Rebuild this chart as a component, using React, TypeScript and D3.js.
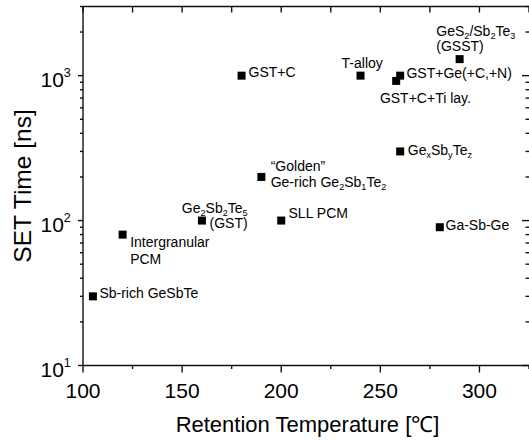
import React from "react";
import * as d3 from "d3";

// ---- data ----
const materials = [
  "Sb-rich GeSbTe",
  "Intergranular PCM",
  "GST",
  "Golden Ge-rich",
  "SLL PCM",
  "GST+C",
  "T-alloy",
  "GST+Ge(+C,+N)",
  "GST+C+Ti lay.",
  "GSST",
  "GexSbyTez",
  "Ga-Sb-Ge",
];
const retentionTemps = [105, 120, 160, 190, 200, 180, 240, 260, 258, 290, 260, 280];
const setTimes = [30, 80, 100, 200, 100, 1000, 1000, 1000, 920, 1300, 300, 90];
const labelLines = [
  ["Sb-rich GeSbTe"],
  ["Intergranular", "PCM"],
  ["Ge_{2}Sb_{2}Te_{5}", "(GST)"],
  ["\u201CGolden\u201D", "Ge-rich Ge_{2}Sb_{1}Te_{2}"],
  ["SLL PCM"],
  ["GST+C"],
  ["T-alloy"],
  ["GST+Ge(+C,+N)"],
  ["GST+C+Ti lay."],
  ["GeS_{2}/Sb_{2}Te_{3}", "(GSST)"],
  ["Ge_{x}Sb_{y}Te_{z}"],
  ["Ga-Sb-Ge"],
];
const xTicks = [100, 150, 200, 250, 300];
const xMinorTicks = [125, 175, 225, 275, 325];
const yMajorTicks = [10, 100, 1000];
const yExponents = ["1", "2", "3"];
const xTitle = "Retention Temperature [\u2103]";
const yTitle = "SET Time [ns]";

// ---- layout (label offsets relative to markers) ----
const labelLayout: { dx: number; dy: number[]; anchor: string }[] = [
  { dx: 6.5, dy: [-3.5], anchor: "start" },
  { dx: 7.5, dy: [7.3, 24], anchor: "start" },
  { dx: 45.7, dy: [-13, 2.6], anchor: "end" },
  { dx: 9.3, dy: [-10.7, 5], anchor: "start" },
  { dx: 7.3, dy: [-7.4], anchor: "start" },
  { dx: 7, dy: [-3.4], anchor: "start" },
  { dx: 1.7, dy: [-12.4], anchor: "middle" },
  { dx: 6.3, dy: [-3], anchor: "start" },
  { dx: -16.3, dy: [17.3], anchor: "start" },
  { dx: -23.3, dy: [-28.3, -13], anchor: "start" },
  { dx: 7.6, dy: [-1.6], anchor: "start" },
  { dx: 5.7, dy: [-2.4], anchor: "start" },
];

const W = 529;
const H = 441;
const L = 83;
const R = 529;
const T = 6.5;
const B = 365.5;
const FONT = "'Liberation Sans', Arial, Helvetica, sans-serif";

function RichText({ s, fs }: { s: string; fs: number }) {
  const parts = s.split(/(_\{[^}]*\})/).filter((p) => p !== "");
  const shift = 3;
  let offset = 0;
  return (
    <>
      {parts.map((p, i) => {
        if (p.startsWith("_{")) {
          const d = shift - offset;
          offset = shift;
          return (
            <tspan key={i} fontSize={fs * 0.65} dy={d}>
              {p.slice(2, -1)}
            </tspan>
          );
        }
        const d = -offset;
        offset = 0;
        return (
          <tspan key={i} dy={d}>
            {p}
          </tspan>
        );
      })}
    </>
  );
}

export default function App() {
  const x = d3.scaleLinear().domain([100, 325]).range([L, R]);
  const y = d3.scaleLog().domain([10, 3000]).range([B, T]);

  const yMinor: number[] = [];
  [10, 100, 1000].forEach((dec) => {
    for (let k = 2; k <= 9; k++) {
      const v = dec * k;
      if (v <= 3000) yMinor.push(v);
    }
  });

  const stroke = "#111";
  const sw = 1.4;
  const ms = 8;
  const lfs = 14;

  return (
    <svg
      width={W}
      height={H}
      style={{ position: "absolute", left: 0, top: 0, background: "#fff" }}
      fontFamily={FONT}
    >
      <rect x={0} y={0} width={W} height={H} fill="#fff" />
      {/* frame (right spine falls outside the picture) */}
      <line x1={L} x2={R} y1={B} y2={B} stroke={stroke} strokeWidth={sw} />
      <line x1={L} x2={R} y1={T} y2={T} stroke={stroke} strokeWidth={sw} />
      <line x1={L} x2={L} y1={T} y2={B} stroke={stroke} strokeWidth={sw} />

      {/* bottom ticks (outward) */}
      {xTicks.map((t) => (
        <line key={"bx" + t} x1={x(t)} x2={x(t)} y1={B} y2={B + 7} stroke={stroke} strokeWidth={sw} />
      ))}
      {xMinorTicks.map((t) => (
        <line key={"bxm" + t} x1={x(t)} x2={x(t)} y1={B} y2={B + 3.5} stroke={stroke} strokeWidth={sw} />
      ))}
      {/* top ticks (inward) */}
      {[...xTicks, ...xMinorTicks].map((t) => (
        <line key={"tx" + t} x1={x(t)} x2={x(t)} y1={T} y2={T + 6} stroke={stroke} strokeWidth={sw} />
      ))}
      {/* left ticks (outward) */}
      {yMajorTicks.map((t) => (
        <line key={"ly" + t} x1={L - 5} x2={L} y1={y(t)} y2={y(t)} stroke={stroke} strokeWidth={sw} />
      ))}
      {yMinor.map((t) => (
        <line key={"lym" + t} x1={L - 3} x2={L} y1={y(t)} y2={y(t)} stroke={stroke} strokeWidth={sw} />
      ))}
      {/* right ticks (inward) */}
      {yMajorTicks.map((t) => (
        <line key={"ry" + t} x1={R - 7} x2={R} y1={y(t)} y2={y(t)} stroke={stroke} strokeWidth={sw} />
      ))}
      {yMinor.map((t) => (
        <line key={"rym" + t} x1={R - 3.5} x2={R} y1={y(t)} y2={y(t)} stroke={stroke} strokeWidth={sw} />
      ))}

      {/* x tick labels */}
      {xTicks.map((t) => (
        <text key={"xl" + t} x={x(t)} y={397.7} textAnchor="middle" fontSize={21} fill="#000">
          {t}
        </text>
      ))}
      {/* y tick labels */}
      {yMajorTicks.map((t, i) => (
        <text key={"yl" + t} x={70.8} y={y(t) + 11} textAnchor="end" fontSize={21} fill="#000">
          <tspan>10</tspan>
          <tspan fontSize={12.5} dy={-10}>
            {yExponents[i]}
          </tspan>
        </text>
      ))}

      {/* axis titles */}
      <text x={307.5} y={431.7} textAnchor="middle" fontSize={22} fill="#000">
        {xTitle}
      </text>
      <text
        transform={`translate(31,${(T + B) / 2}) rotate(-90)`}
        textAnchor="middle"
        fontSize={24.5}
        fill="#000"
      >
        {yTitle}
      </text>

      {/* markers */}
      {materials.map((m, i) => (
        <rect
          key={"m" + m}
          x={x(retentionTemps[i]) - ms / 2}
          y={y(setTimes[i]) - ms / 2}
          width={ms}
          height={ms}
          fill="#000"
        />
      ))}

      {/* labels */}
      {materials.map((m, i) => {
        const lay = labelLayout[i];
        const cx = x(retentionTemps[i]);
        const cy = y(setTimes[i]);
        return labelLines[i].map((line, j) => (
          <text
            key={"t" + m + j}
            x={cx + lay.dx}
            y={cy + lay.dy[j] + 5}
            textAnchor={lay.anchor}
            fontSize={lfs}
            fill="#000"
          >
            <RichText s={line} fs={lfs} />
          </text>
        ));
      })}
    </svg>
  );
}
